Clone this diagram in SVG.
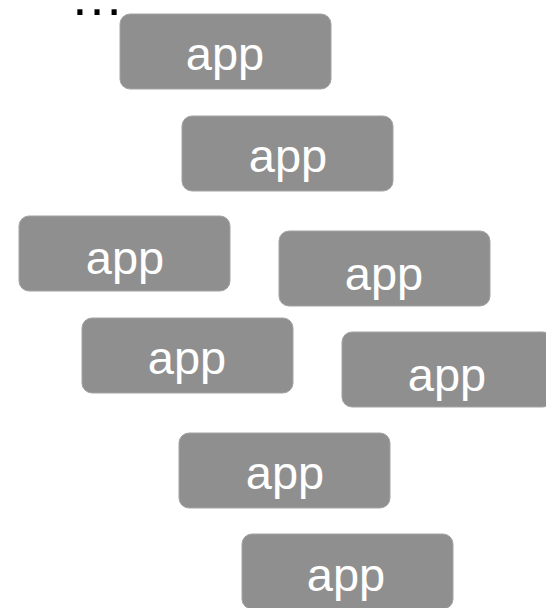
<svg xmlns="http://www.w3.org/2000/svg" width="546" height="608" viewBox="0 0 546 608">
<style>
.box{fill:#8f8f8f;stroke:#a3a3a3;stroke-width:1}
.lbl{font-family:"Liberation Sans",Arial,sans-serif;font-size:47px;fill:#ffffff;text-anchor:middle}
.dots{font-family:"Liberation Sans",Arial,sans-serif;font-size:54px;fill:#000000}
</style>
<rect width="546" height="608" fill="#ffffff"/>
<text class="dots" x="70" y="15">…</text>
<g id="app1"><rect class="box" x="120" y="14" width="211" height="75" rx="10"/><text class="lbl" x="225" y="70">app</text></g>
<g id="app2"><rect class="box" x="182" y="116" width="211" height="75" rx="10"/><text class="lbl" x="288" y="172">app</text></g>
<g id="app3"><rect class="box" x="19" y="216" width="211" height="75" rx="10"/><text class="lbl" x="125" y="274">app</text></g>
<g id="app4"><rect class="box" x="279" y="231" width="211" height="75" rx="10"/><text class="lbl" x="384" y="290">app</text></g>
<g id="app5"><rect class="box" x="82" y="318" width="211" height="75" rx="10"/><text class="lbl" x="187" y="374">app</text></g>
<g id="app6"><rect class="box" x="342" y="332" width="211" height="75" rx="10"/><text class="lbl" x="447" y="391">app</text></g>
<g id="app7"><rect class="box" x="179" y="433" width="211" height="75" rx="10"/><text class="lbl" x="285" y="489">app</text></g>
<g id="app8"><rect class="box" x="242" y="534" width="211" height="75" rx="10"/><text class="lbl" x="346" y="591">app</text></g>
<g id="connectors"/>
</svg>
